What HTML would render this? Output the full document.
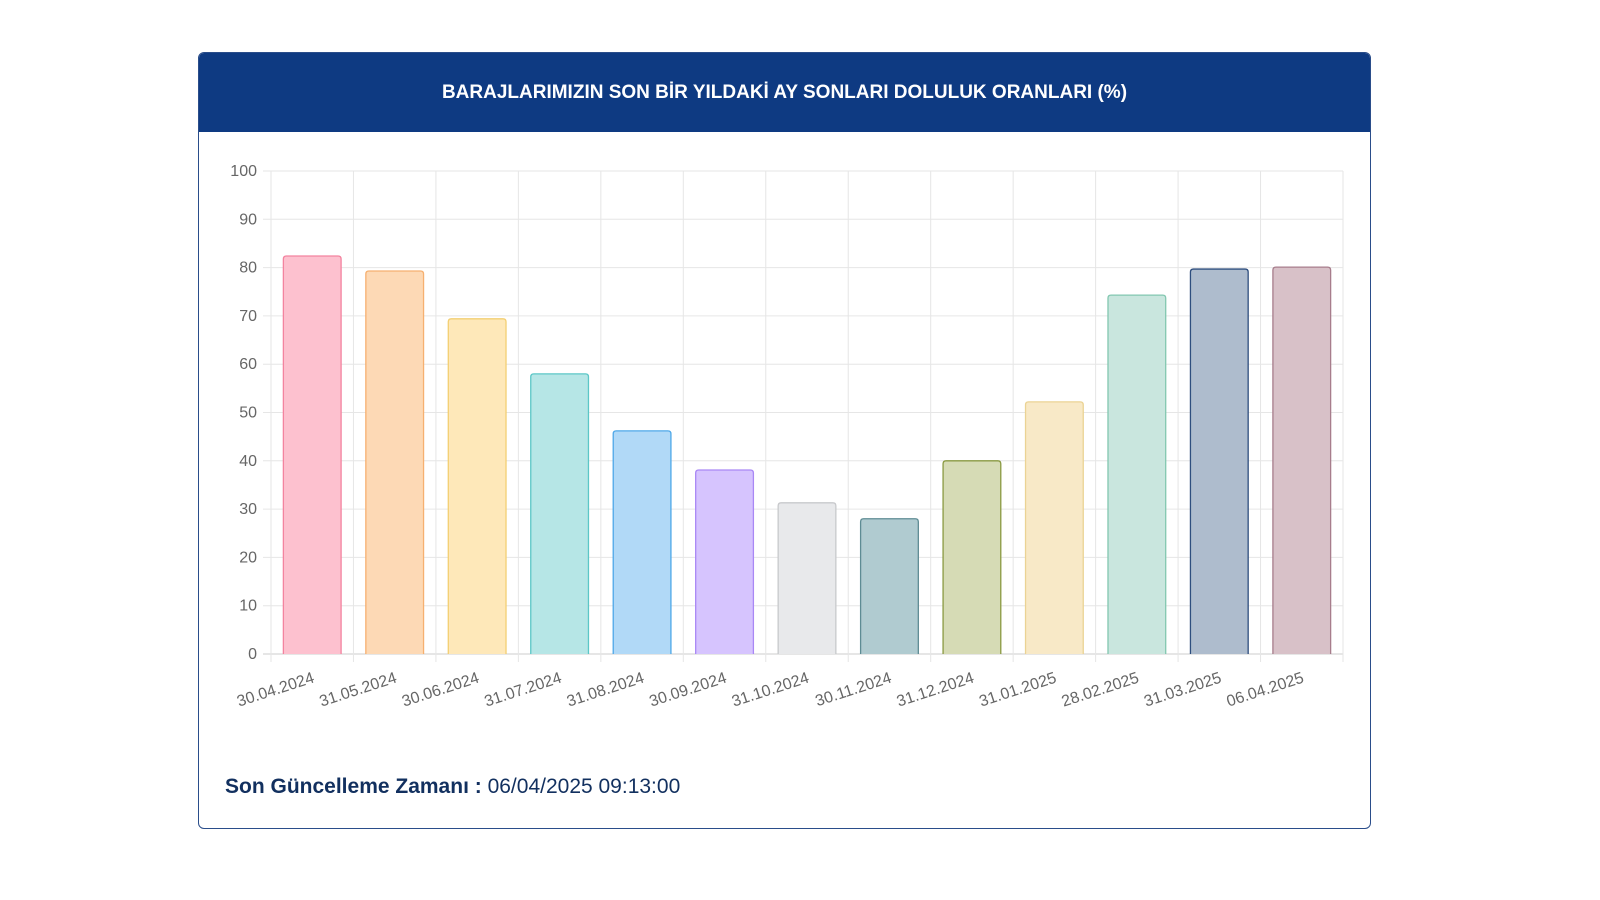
<!DOCTYPE html>
<html><head><meta charset="utf-8"><style>
body{margin:0;width:1600px;height:900px;background:#fff;font-family:"Liberation Sans",sans-serif;position:relative;overflow:hidden}
#card{position:absolute;left:198px;top:52px;width:1171px;height:775px;border:1px solid #2a4d8a;border-radius:6px;overflow:hidden}
#hdr{height:79px;background:#0e3a82;color:#fff;font-weight:bold;font-size:19px;text-align:center;line-height:80px}
#foot{position:absolute;left:26px;top:722px;font-size:21px;color:#12305f}
svg{position:absolute;left:0;top:0}
</style></head><body>
<div id="card">
<div id="hdr">BARAJLARIMIZIN SON BİR YILDAKİ AY SONLARI DOLULUK ORANLARI (%)</div>
<div id="foot"><b>Son Güncelleme Zamanı :</b> 06/04/2025 09:13:00</div>
</div>
<svg id="chart" width="1600" height="900"></svg>
<script>
const categories=["30.04.2024","31.05.2024","30.06.2024","31.07.2024","31.08.2024","30.09.2024","31.10.2024","30.11.2024","31.12.2024","31.01.2025","28.02.2025","31.03.2025","06.04.2025"];
const values=[82.4,79.3,69.4,58.0,46.2,38.1,31.3,28.0,40.0,52.2,74.3,79.7,80.1];
const yTicks=[0,10,20,30,40,50,60,70,80,90,100];
const fills=["#fdc1cf","#fdd9b5","#fee8b9","#b6e6e6","#b1d9f7","#d6c4fe","#e8e9eb","#b0cbd0","#d6dbb5","#f8e9c7","#c9e6de","#aebccd","#d8c1c8"];
const strokes=["#f3839f","#f6b070","#f3cf73","#5cc7c7","#4fa8e8","#a988f5","#c8c9cc","#5e8c94","#8a9a42","#ebd394","#82c7b0","#2e4e7e","#a77d8c"];
const X0=271,X1=1343,Y0=654,Y1=171;
const svg=document.getElementById('chart');const NS='http://www.w3.org/2000/svg';
const cw=(X1-X0)/categories.length;
const y=v=>Y0-(v/100)*(Y0-Y1);
const x=i=>X0+cw*i;
function mk(t,a){const e=document.createElementNS(NS,t);for(const k in a)e.setAttribute(k,a[k]);svg.appendChild(e);return e;}
yTicks.forEach(t=>{const g=mk('line',{x1:X0-8,x2:X1,y1:y(t),y2:y(t),stroke:t===0?'#ccc':'#e6e6e6'});

const l=mk('text',{x:X0-14,y:y(t)+5,'text-anchor':'end','font-size':16,fill:'#666'});l.textContent=t;
});
for(let i=0;i<=categories.length;i++){const g=mk('line',{x1:x(i),x2:x(i),y1:Y1,y2:Y0+8,stroke:'#e6e6e6'});
}
values.forEach((v,i)=>{const bw=cw*0.7,bx=x(i)+(cw-bw)/2;
const r=mk('path',{d:`M${bx},${Y0} V${y(v)+3} Q${bx},${y(v)} ${bx+3},${y(v)} H${bx+bw-3} Q${bx+bw},${y(v)} ${bx+bw},${y(v)+3} V${Y0}`,fill:fills[i],stroke:strokes[i],'stroke-width':1.3});

const cx=x(i)+cw/2+3,cy=Y0+28;
const l=mk('text',{x:cx,y:cy,'text-anchor':'end','font-size':16,fill:'#666',transform:`rotate(-18 ${cx} ${cy})`});l.textContent=categories[i];
});
</script>
</body></html>
